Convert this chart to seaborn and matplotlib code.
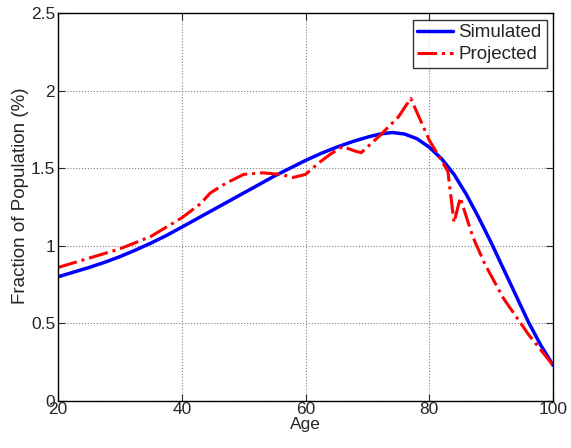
import pandas as pd
import matplotlib
matplotlib.use("Agg")
import matplotlib.pyplot as plt
import seaborn as sns

sim_age = [20, 22.5, 25, 27.5, 30, 32.5, 35, 37.5, 40, 45, 50, 55, 60, 62.5, 65, 67.5, 70, 72, 74, 76, 78, 80,
           82, 84, 86, 88, 90, 92, 94, 96, 98, 100]
sim_val = [0.80, 0.83, 0.86, 0.893, 0.93, 0.972, 1.017, 1.066, 1.12, 1.23, 1.34, 1.45, 1.55, 1.595, 1.635, 1.67,
           1.70, 1.72, 1.73, 1.72, 1.69, 1.635, 1.56, 1.46, 1.33, 1.18, 1.02, 0.85, 0.68, 0.51, 0.36, 0.23]

proj_age = [20, 25, 30, 35, 40, 43, 44.6, 47, 50, 53, 56, 58, 60, 62, 64, 66, 68, 69, 72, 75, 77, 80, 83, 84, 85, 87, 89, 92, 96, 100]
proj_val = [0.86, 0.92, 0.98, 1.06, 1.18, 1.27, 1.34, 1.40, 1.46, 1.47, 1.46, 1.44, 1.46, 1.53, 1.59, 1.64, 1.61, 1.60, 1.71, 1.83, 1.95, 1.68, 1.48, 1.15, 1.31, 1.06, 0.88, 0.66, 0.43, 0.23]

sns.set_style("ticks")
plt.rcParams["font.family"] = ["Liberation Sans", "DejaVu Sans"]
plt.rcParams["font.size"] = 12

fig = plt.figure(figsize=(5.71, 4.48), dpi=100)
ax = fig.add_axes([0.1016, 0.105, 0.867, 0.866])

df_sim = pd.DataFrame({"Age": sim_age, "Fraction": sim_val})
df_proj = pd.DataFrame({"Age": proj_age, "Fraction": proj_val})

sns.lineplot(data=df_sim, x="Age", y="Fraction", color="#0000ff", linewidth=2.5,
             label="Simulated", ax=ax)
sns.lineplot(data=df_proj, x="Age", y="Fraction", color="#ff0000", linewidth=2.2,
             linestyle="-.", label="Projected", ax=ax)

ax.set_xlim(20, 100)
ax.set_ylim(0, 2.5)
ax.set_xticks([20, 40, 60, 80, 100])
ax.set_yticks([0, 0.5, 1, 1.5, 2, 2.5])
ax.set_yticklabels(["0", "0.5", "1", "1.5", "2", "2.5"])
ax.grid(True, linestyle=":", color="#808080", linewidth=0.8)
ax.tick_params(direction="in", top=True, right=True, length=5, labelsize=12.5, pad=2)
ax.tick_params(axis="x", pad=1)
for s in ax.spines.values():
    s.set_visible(True)
    s.set_color("black")
    s.set_linewidth(1)

ax.set_xlabel("Age", fontsize=12.5, labelpad=0)
ax.set_ylabel("Fraction of Population (%)", fontsize=13.5)
ax.yaxis.set_label_coords(-0.058, 0.53)

leg = ax.legend(loc="upper right", frameon=True, fancybox=False, fontsize=13.5,
                borderaxespad=0.35, handlelength=1.9, handletextpad=0.3,
                borderpad=0.25, labelspacing=0.25)
leg.get_frame().set_edgecolor("black")
leg.get_frame().set_linewidth(1)

fig.savefig("out.png", dpi=100)
